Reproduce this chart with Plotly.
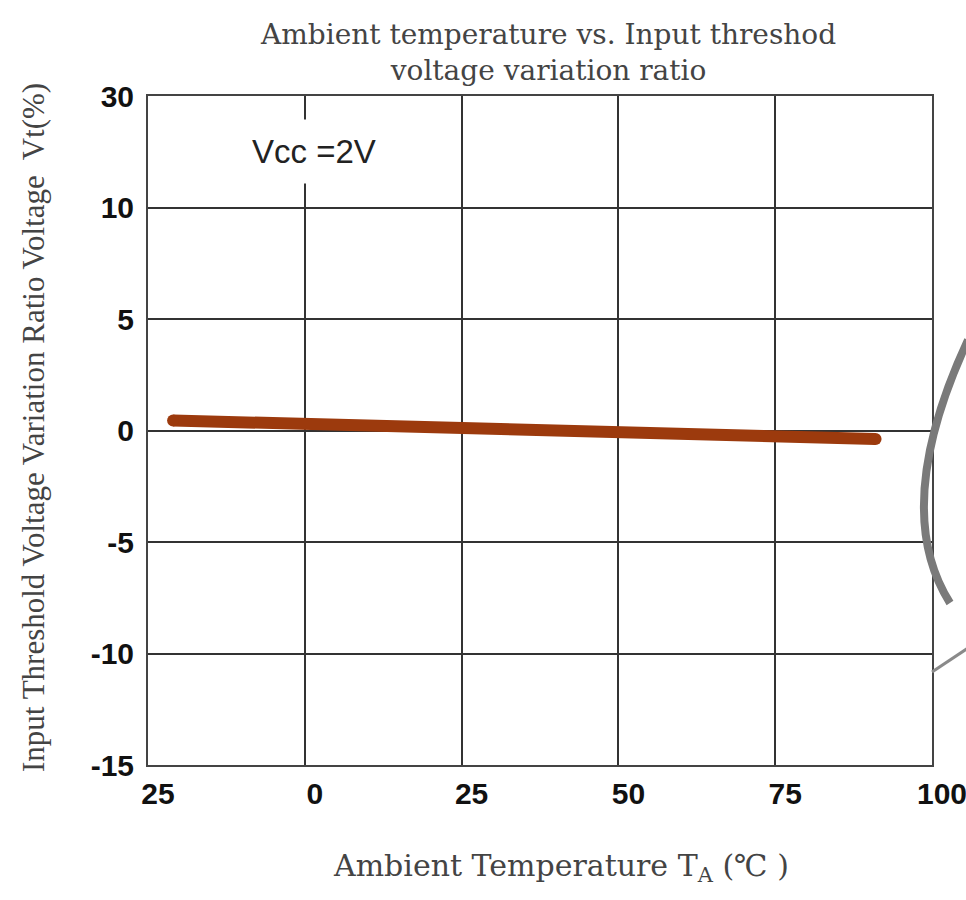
import plotly.graph_objects as go

# data
temp_c = [-21, 0, 25, 50, 75, 91]
vt_ratio = [0.45, 0.3, 0.15, -0.02, -0.2, -0.38]

x_tickvals = [-25, 0, 25, 50, 75, 100]
x_ticktext = ["25", "0", "25", "50", "75", "100"]
y_tickvals = [-15, -10, -5, 0, 5, 10, 15]
y_ticktext = ["-15", "-10", "-5", "0", "5", "10", "30"]

W, H = 966, 900
# plot area in page pixels (as seen in the reference)
PL, PR, PT, PB = 148, 932, 96, 765
L, T = PL, PT
R, B = W - PR, H - PB


def px(x, y):
    """page pixel -> paper coordinate"""
    return (x - PL) / (PR - PL), (PB - y) / (PB - PT)


LINE_COLOR = "#9c3a0d"
fig = go.Figure()
fig.add_trace(go.Scatter(
    x=temp_c, y=vt_ratio, mode="lines",
    line=dict(color=LINE_COLOR, width=12),
    showlegend=False,
))
# round caps
fig.add_trace(go.Scatter(
    x=[temp_c[0], temp_c[-1]], y=[vt_ratio[0], vt_ratio[-1]], mode="markers",
    marker=dict(color=LINE_COLOR, size=12), showlegend=False,
))

tickfont = dict(family="Liberation Sans, Arial", size=30, color="#111", weight="bold")
serif = "Liberation Serif, Times New Roman, serif"
wide_serif = "DejaVu Serif, serif"

fig.update_xaxes(
    range=[-25, 100], tickvals=x_tickvals, ticktext=x_ticktext,
    showgrid=True, gridcolor="#333", gridwidth=2,
    showline=True, linecolor="#444", linewidth=2, mirror=True,
    ticks="", tickfont=tickfont, ticklabelshift=10, ticklabelstandoff=1,
    ticklabeloverflow="allow",
    zeroline=False, automargin=False,
)
fig.update_yaxes(
    range=[-15, 15], tickvals=y_tickvals, ticktext=y_ticktext,
    showgrid=True, gridcolor="#333", gridwidth=2,
    showline=True, linecolor="#444", linewidth=2, mirror=True,
    ticks="", tickfont=tickfont, ticklabelstandoff=6,
    ticklabeloverflow="allow",
    zeroline=False, automargin=False,
)

# Vcc label
fig.add_annotation(
    x=0, y=12.5, xref="x", yref="y", text="Vcc =2V", showarrow=False, xshift=9,
    font=dict(family="Liberation Sans, Arial", size=33, color="#222"),
    bgcolor="white", borderpad=13,
)

# chart title
tx, ty = px(548, 53)
fig.add_annotation(
    x=tx, y=ty, xref="paper", yref="paper", xanchor="center", yanchor="middle",
    text="Ambient temperature vs. Input threshod<br>voltage variation ratio",
    showarrow=False, font=dict(family=wide_serif, size=28, color="#444"),
)
# x-axis title
ax_, ay_ = px(561, 867)
fig.add_annotation(
    x=ax_, y=ay_, xref="paper", yref="paper", xanchor="center", yanchor="middle",
    text="Ambient Temperature T<sub>A</sub> (℃ )",
    showarrow=False, font=dict(family=wide_serif, size=30, color="#444"),
)
# y-axis title
bx_, by_ = px(33, 428)
fig.add_annotation(
    x=bx_, y=by_, xref="paper", yref="paper", xanchor="center", yanchor="middle",
    text="Input Threshold Voltage Variation Ratio Voltage  Vt(%)", textangle=-90,
    showarrow=False, font=dict(family=serif, size=31, color="#444"),
)

# decorative arcs at the right edge of the reference image
x0, y0 = px(968, 340)
cx, cy = px(890, 508)
x1, y1 = px(950, 603)
fig.add_shape(type="path", xref="paper", yref="paper",
              path=f"M {x0},{y0} Q {cx},{cy} {x1},{y1}",
              line=dict(color="#7a7a7a", width=8), layer="above")
a0, b0 = px(932, 672)
a1, b1 = px(968, 648)
fig.add_shape(type="line", xref="paper", yref="paper", x0=a0, y0=b0, x1=a1, y1=b1,
              line=dict(color="#8a8a8a", width=3), layer="above")

fig.update_layout(
    width=W, height=H,
    margin=dict(l=L, r=R, t=T, b=B, autoexpand=False),
    plot_bgcolor="white", paper_bgcolor="white",
)

fig.write_html(
    "out.html",
    config={"displayModeBar": False},
    post_script="document.body.style.margin='0';document.body.style.overflow='hidden';",
)
